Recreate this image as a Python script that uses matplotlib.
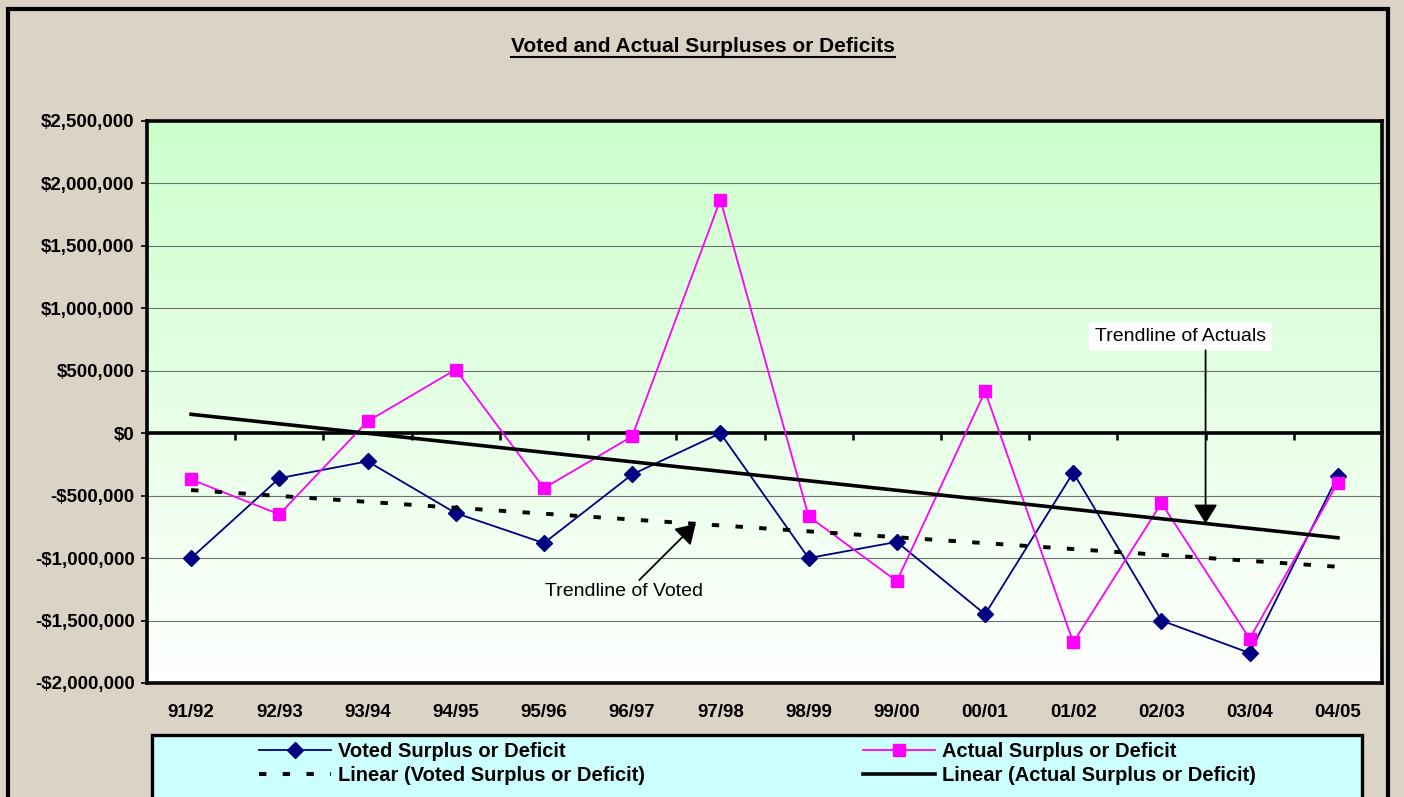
import numpy as np
import matplotlib
matplotlib.use('Agg')
import matplotlib.pyplot as plt
from matplotlib.patches import Rectangle
from matplotlib.lines import Line2D
from matplotlib.ticker import FuncFormatter, MultipleLocator

plt.rcParams['font.family'] = ['Liberation Sans', 'DejaVu Sans']

# Data
years = ['91/92', '92/93', '93/94', '94/95', '95/96', '96/97', '97/98',
         '98/99', '99/00', '00/01', '01/02', '02/03', '03/04', '04/05']
voted = [-1000000, -360000, -225000, -640000, -880000, -330000, 0,
         -1000000, -870000, -1450000, -315000, -1500000, -1760000, -340000]
actual = [-370000, -650000, 95000, 510000, -440000, -25000, 1870000,
          -665000, -1185000, 335000, -1675000, -560000, -1645000, -395000]

W, H = 1404, 797
fig = plt.figure(figsize=(W / 100, H / 100), dpi=100)
fig.patch.set_facecolor('#dcd3c7')

# outer chart border
fig.add_artist(Rectangle((7.5 / W, -0.1), (1388 - 7.5) / W, 1.1 - 9 / H,
                         transform=fig.transFigure, fill=False,
                         edgecolor='black', lw=3, zorder=0))

ax = fig.add_axes([147 / W, 1 - 683 / H, (1382 - 147) / W, (683 - 121) / H])
x = np.arange(len(years))

# green-to-white gradient plot area
t = np.linspace(0, 1, 256)[:, None, None]
top = np.array([204, 255, 204]) / 255
grad = top + (1 - top) * t
ax.imshow(grad, extent=[0, 1, 0, 1], transform=ax.transAxes, aspect='auto', zorder=0)

# linear trendlines (same as Excel's)
vfit = np.polyfit(x, voted, 1)
afit = np.polyfit(x, actual, 1)
vtrend = np.polyval(vfit, x)
atrend = np.polyval(afit, x)

h1, = ax.plot(x, voted, color='#000080', lw=1.3, marker='D', ms=8.5, zorder=3,
              label='Voted Surplus or Deficit')
h2, = ax.plot(x, actual, color='#ff00ff', lw=1.3, marker='s', ms=8, zorder=3,
              label='Actual Surplus or Deficit')
h3, = ax.plot(x, vtrend, color='black', lw=2.8, dashes=(1.9, 4.2), zorder=4,
              label='Linear (Voted Surplus or Deficit)')
h4, = ax.plot(x, atrend, color='black', lw=2.6, zorder=4,
              label='Linear (Actual Surplus or Deficit)')

ax.set_xlim(-0.5, len(years) - 0.5)
ax.set_ylim(-2000000, 2500000)
ax.yaxis.set_major_locator(MultipleLocator(500000))
ax.yaxis.set_major_formatter(FuncFormatter(
    lambda v, p: ('-$' if v < 0 else '$') + f'{abs(v):,.0f}'))
ax.grid(axis='y', color='#707070', lw=0.8)
for lbl in ax.get_yticklabels():
    lbl.set_fontweight('bold')
ax.tick_params(axis='y', labelsize=13.5, length=4, width=1.2, pad=5)

for s in ['top', 'left', 'right']:
    ax.spines[s].set_linewidth(2.6)
# category axis crosses at zero
ax.spines['bottom'].set_position(('data', 0))
ax.spines['bottom'].set_linewidth(2.6)
ax.spines['bottom'].set_zorder(2.5)
ax.set_xticks([])
ax.set_xticks(x[:-1] + 0.5, minor=True)
ax.tick_params(axis='x', which='minor', direction='out', length=5, width=1.8)

# category labels at the bottom of the plot
sec = ax.secondary_xaxis('bottom')
sec.set_xticks(x, labels=years, fontsize=13.5, fontweight='bold')
sec.tick_params(length=0, pad=15)
sec.spines['bottom'].set_linewidth(2.6)

# annotations
arrow = dict(arrowstyle='-|>,head_length=0.42,head_width=0.26', color='black',
             lw=1.3, mutation_scale=28, shrinkA=0, shrinkB=0)
ax.text(11.22, 776000, 'Trendline of Actuals', ha='center', va='center',
        fontsize=14, zorder=6,
        bbox=dict(boxstyle='square,pad=0.3', fc='white', ec='none'))
ax.annotate('', xy=(11.5, np.polyval(afit, 11.5)), xytext=(11.5, 664000),
            arrowprops=arrow, zorder=6)
ax.annotate('', xy=(5.72, np.polyval(vfit, 5.72)), xytext=(5.08, -1176000),
            arrowprops=arrow, zorder=6)
ax.text(4.91, -1270000, 'Trendline of Voted', ha='center', va='center',
        fontsize=14, zorder=6)

# legend box
fig.add_artist(Rectangle((152 / W, -0.05), 1210 / W, 0.05 + (797 - 735) / H,
                         transform=fig.transFigure, facecolor='#ccffff',
                         edgecolor='black', lw=2.4, zorder=1))
fig.legend([h1, h3, h2, h4], [h.get_label() for h in (h1, h3, h2, h4)],
           loc='upper center', bbox_to_anchor=(0.5395, 1 - 732 / H), ncol=2,
           frameon=False, prop={'weight': 'bold', 'size': 14.5},
           handlelength=3.6, handletextpad=0.35, columnspacing=10.8,
           borderpad=0, labelspacing=0.25)

# underlined title
title = fig.text(0.501, 1 - 52 / H, 'Voted and Actual Surpluses or Deficits',
                 ha='center', va='baseline', fontsize=15, fontweight='bold')
fig.canvas.draw()
bb = title.get_window_extent()
fig.add_artist(Line2D([bb.x0 / W, bb.x1 / W], [1 - 57 / H, 1 - 57 / H],
                      transform=fig.transFigure, color='black', lw=1.5))

fig.savefig('out.png', dpi=100, facecolor=fig.get_facecolor())
